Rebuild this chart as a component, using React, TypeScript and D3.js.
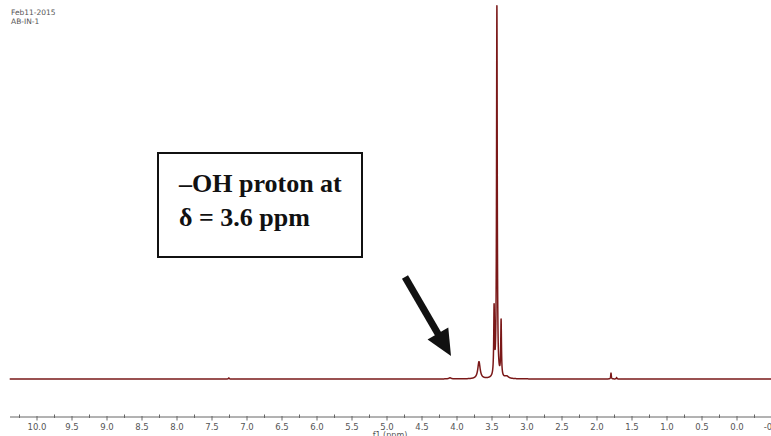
import React from "react";
import * as d3 from "d3";

// Peak list: chemical shift (ppm), relative height, half-width (ppm)
const peakShifts = [3.43, 3.47, 3.37, 3.686, 3.29, 1.8, 1.72, 7.26, 4.1];
const peakHeights = [100, 18, 15, 4.6, 0.6, 1.6, 0.4, 0.3, 0.3];
const peakWidths = [0.006, 0.006, 0.006, 0.02, 0.03, 0.005, 0.005, 0.006, 0.02];

const tickLabels = ["10.0", "9.5", "9.0", "8.5", "8.0", "7.5", "7.0", "6.5", "6.0", "5.5", "5.0", "4.5", "4.0", "3.5", "3.0", "2.5", "2.0", "1.5", "1.0", "0.5", "0.0", "-0.5"];
const headerLines = ["Feb11-2015", "AB-IN-1"];
const annotationLines = ["\u2013OH proton at", "\u03b4 = 3.6 ppm"];
const axisTitle = "f1 (ppm)";

const W = 771;
const H = 436;

export default function App() {
  const x = d3.scaleLinear().domain([10.5, -0.5]).range([2, 772]);
  const y = d3.scaleLinear().domain([0, 100]).range([379, 8]);

  const signal = (ppm: number) => {
    let s = 0;
    for (let i = 0; i < peakShifts.length; i++) {
      const d = (ppm - peakShifts[i]) / peakWidths[i];
      s += peakHeights[i] / (1 + d * d);
    }
    return s;
  };

  const start = 10.39;
  const end = -0.5;
  const pts: [number, number][] = [];
  const n = Math.round((start - end) / 0.0005);
  for (let i = 0; i <= n; i++) {
    const p = start - i * 0.0005;
    pts.push([p, signal(p)]);
  }
  const line = d3
    .line<[number, number]>()
    .x((d) => x(d[0]))
    .y((d) => y(d[1]));

  const axisY = 417;
  const ticks: { v: number; major: boolean }[] = [];
  for (let k = -2; k <= 42; k++) {
    const v = k * 0.25;
    if (v > 10.4) continue;
    ticks.push({ v, major: k % 2 === 0 });
  }

  // arrow geometry
  const tail = [405, 277];
  const tip = [451, 356];
  const dx = tip[0] - tail[0];
  const dy = tip[1] - tail[1];
  const len = Math.hypot(dx, dy);
  const ux = dx / len;
  const uy = dy / len;
  const headLen = 26;
  const headHalf = 12;
  const bx = tip[0] - headLen * ux;
  const by = tip[1] - headLen * uy;
  const px = -uy;
  const py = ux;

  return (
    <svg width={W} height={H} style={{ position: "absolute", left: 0, top: 0, background: "#fff" }}>
      {headerLines.map((t, i) => (
        <text key={t} x={11} y={15 + i * 9} fontFamily="DejaVu Sans" fontSize={7.5} fill="#555">
          {t}
        </text>
      ))}

      <path d={line(pts) || ""} fill="none" stroke="#7a1818" strokeWidth={1.5} strokeLinejoin="round" />

      <rect x={158} y={153} width={204} height={104} fill="#fff" stroke="#111" strokeWidth={2} />
      {annotationLines.map((t, i) => (
        <text key={t} x={179} y={192 + i * 34} fontFamily="Liberation Serif" fontWeight="bold" fontSize={26} fill="#111">
          {t}
        </text>
      ))}

      <line x1={tail[0]} y1={tail[1]} x2={bx + ux} y2={by + uy} stroke="#111" strokeWidth={7} />
      <polygon
        points={`${tip[0]},${tip[1]} ${bx + px * headHalf},${by + py * headHalf} ${bx - px * headHalf},${by - py * headHalf}`}
        fill="#111"
      />

      <line x1={10} x2={771} y1={axisY} y2={axisY} stroke="#666" strokeWidth={1} />
      {ticks.map((t) => (
        <line
          key={t.v}
          x1={x(t.v)}
          x2={x(t.v)}
          y1={t.major ? axisY - 1 : axisY - 2.5}
          y2={t.major ? axisY + 3.5 : axisY + 1}
          stroke="#666"
          strokeWidth={1}
        />
      ))}
      {tickLabels.map((t) => (
        <text key={t} x={x(parseFloat(t))} y={430} textAnchor="middle" fontFamily="DejaVu Sans" fontSize={8.5} fill="#555">
          {t}
        </text>
      ))}
      <text x={390} y={438} textAnchor="middle" fontFamily="DejaVu Sans" fontSize={8} fill="#555">
        {axisTitle}
      </text>
    </svg>
  );
}
